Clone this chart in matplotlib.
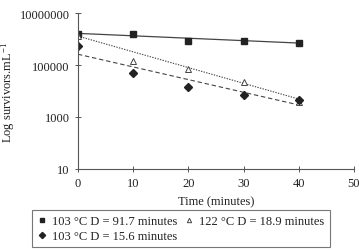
import numpy as np
import matplotlib
matplotlib.use('Agg')
import matplotlib.pyplot as plt

plt.rcParams['font.family'] = 'Liberation Serif'
plt.rcParams['font.size'] = 9
plt.rcParams['mathtext.fontset'] = 'custom'
plt.rcParams['mathtext.rm'] = 'Liberation Serif'
plt.rcParams['mathtext.it'] = 'Liberation Serif:italic'

# data
time = [0, 10, 20, 30, 40]
sq_103 = [1.55e6, 1.55e6, 8.3e5, 8.5e5, 7.0e5]
tri_122 = [1.3e6, 1.4e5, 7.0e4, 2.2e4, 3.8e3]
dia_103 = [5.5e5, 4.9e4, 1.4e4, 7.0e3, 4.5e3]

# trendline end values at 0 and 40 min
trend_t = [0, 40]
trend_sq = [1.65e6, 7.0e5]
trend_tri = [1.3e6, 4.9e3]
trend_dia = [2.6e5, 2.9e3]

labels = ['103 °C D = 91.7 minutes', '122 °C D = 18.9 minutes', '103 °C D = 15.6 minutes']

fig = plt.figure(figsize=(3.59, 2.51), dpi=100)
ax = fig.add_axes([0.217, 0.323, 0.769, 0.621])

c = '#222222'
ax.plot(trend_t, trend_sq, color='#444444', lw=0.9, ls='-')
ax.plot(trend_t, trend_tri, color='#444444', lw=0.8, ls=(0, (1.2, 1.2)))
ax.plot(trend_t, trend_dia, color='#444444', lw=0.8, ls=(0, (4, 2.5)))

h1, = ax.plot(time, sq_103, ls='none', marker='s', ms=4.5, color=c)
h2, = ax.plot(time, tri_122, ls='none', marker='^', ms=4.5, mfc='white', mec='#444444', mew=0.7)
h3, = ax.plot(time, dia_103, ls='none', marker='D', ms=4.5, color=c)

ax.set_yscale('log')
ax.set_ylim(10, 1e7)
ax.set_yticks([10, 1000, 100000, 10000000])
ax.set_yticklabels(['10', '1000', '100000', '10000000'])
ax.yaxis.set_minor_locator(matplotlib.ticker.NullLocator())
ax.set_xlim(0, 50)
ax.set_xticks([0, 10, 20, 30, 40, 50])

for s in ['top', 'right']:
    ax.spines[s].set_visible(False)
for s in ['left', 'bottom']:
    ax.spines[s].set_color('#555555')
    ax.spines[s].set_linewidth(0.8)
ax.tick_params(direction='inout', length=4, width=0.7, color='#555555', labelcolor='#222222')
ax.tick_params(axis='y', pad=4)

ax.set_xlabel('Time (minutes)', color='#222222', labelpad=5)
ax.set_ylabel('Log survivors.mL$^{-1}$', color='#222222', labelpad=2)

leg = fig.legend([h1, h3, h2], [labels[0], labels[2], labels[1]], ncol=2,
                 loc='upper center', bbox_to_anchor=(0.503, 0.159),
                 borderaxespad=0, frameon=True, fancybox=False, edgecolor='#555555',
                 handlelength=0.8, handletextpad=0.4, columnspacing=0.6, borderpad=0.4,
                 labelspacing=0.25, markerscale=0.7)
leg.get_frame().set_linewidth(0.8)
for t in leg.get_texts():
    t.set_color('#222222')

fig.savefig('out.png', dpi=100)
